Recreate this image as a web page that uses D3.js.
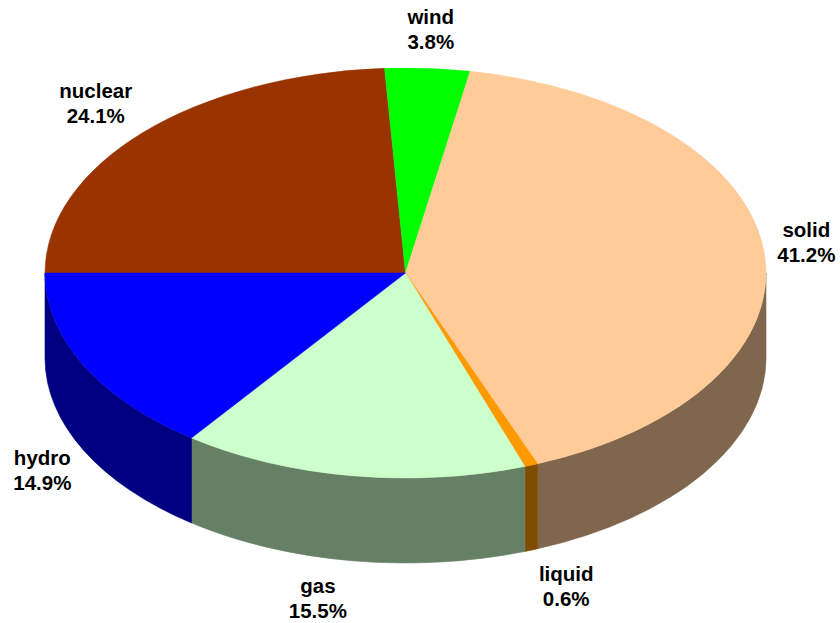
<!DOCTYPE html>
<html>
<head>
<meta charset="utf-8">
<script src="https://cdn.jsdelivr.net/npm/d3@7"></script>
<style>
  html, body { margin: 0; padding: 0; background: #ffffff; }
  svg { display: block; }
  text { font-family: "Liberation Sans", Arial, Helvetica, sans-serif; font-weight: bold; }
</style>
</head>
<body>
<svg id="chart" width="840" height="623"></svg>
<script>
// Energy sources, clockwise from the 9 o'clock position
const categories = ["nuclear", "wind", "solid", "liquid", "gas", "hydro"];
const shares = [24.1, 3.8, 41.2, 0.6, 15.5, 14.9];
const colors = ["#993300", "#00ff00", "#ffcc99", "#ff9900", "#ccffcc", "#0000ff"];

const cx = 405.5, cy = 273;      // centre of the top face
const rx = 360.5, ry = 205;      // ellipse radii of the top face
const depth = 85;                // height of the pie's side wall

const svg = d3.select("#chart");

const pie = d3.pie()
  .sort(null)
  .value(d => d.value)
  .startAngle(-Math.PI / 2)
  .endAngle(3 * Math.PI / 2);

const slices = pie(categories.map((c, i) => ({ name: c, value: shares[i], color: colors[i] })));

// darker shade for the side walls
function shade(c) {
  const k = d3.rgb(c);
  return d3.rgb(k.r * 0.5, k.g * 0.5, k.b * 0.5).formatHex();
}

// point on the ellipse at angle a (radians, clockwise from 12 o'clock)
const ex = a => cx + rx * Math.sin(a);
const ey = a => cy - ry * Math.cos(a);

// side wall: only the front half (angles between 90deg and 270deg) is visible
function sidePath(a0, a1) {
  const lo = Math.max(a0, Math.PI / 2), hi = Math.min(a1, 3 * Math.PI / 2);
  if (hi <= lo) return null;
  const large = (hi - lo) > Math.PI ? 1 : 0;
  return `M${ex(lo)},${ey(lo)}` +
    `A${rx},${ry} 0 ${large} 1 ${ex(hi)},${ey(hi)}` +
    `L${ex(hi)},${ey(hi) + depth}` +
    `A${rx},${ry} 0 ${large} 0 ${ex(lo)},${ey(lo) + depth}Z`;
}

// normalise slice angles into [0, 2pi) so the side-wall test works
function wrapped(d) {
  const T = 2 * Math.PI;
  const a0 = d.startAngle, a1 = d.endAngle;
  const segs = [];
  if (a1 <= 0) segs.push([a0 + T, a1 + T]);
  else if (a0 < 0) { segs.push([a0 + T, T]); segs.push([0, a1]); }
  else if (a0 >= T) segs.push([a0 - T, a1 - T]);
  else if (a1 > T) { segs.push([a0, T]); segs.push([0, a1 - T]); }
  else segs.push([a0, a1]);
  return segs;
}

const sideLayer = svg.append("g").attr("class", "sides");
slices.forEach(d => {
  wrapped(d).forEach(([a0, a1]) => {
    const p = sidePath(a0, a1);
    if (p) {
      sideLayer.append("path")
        .attr("d", p)
        .attr("fill", shade(d.data.color))
        .attr("stroke", shade(d.data.color))
        .attr("stroke-width", 0.6);
    }
  });
});

// top face: circular arcs squashed into the ellipse
const arc = d3.arc().innerRadius(0).outerRadius(rx);
const topFace = svg.append("g")
  .attr("transform", `translate(${cx},${cy}) scale(1,${ry / rx})`);
topFace.selectAll("path")
  .data(slices)
  .join("path")
  .attr("d", arc)
  .attr("fill", d => d.data.color)
  .attr("stroke", d => d.data.color)
  .attr("stroke-width", 0.6);

// labels: a centred two-line block set just outside the rim at each slice's mid-angle
const labelLayer = svg.append("g").attr("class", "labels");
slices.forEach(d => {
  const m = (d.startAngle + d.endAngle) / 2;
  const s = Math.sin(m), c = Math.cos(m);
  const px = ex(m);
  const py = ey(m) + (c < 0 ? depth : 0);
  const edge = px + 13 * Math.sign(s) * Math.sqrt(Math.abs(s));
  const mid = py - 32 * c + (c < 0 ? 13 : 0);

  const t = labelLayer.append("text")
    .attr("text-anchor", "middle")
    .attr("font-size", 20.5)
    .attr("fill", "#000");
  const l1 = t.append("tspan").attr("y", mid - 12.5).text(d.data.name);
  const l2 = t.append("tspan").attr("y", mid + 12.5).text(d.data.value.toFixed(1) + "%");
  const w = Math.max(l1.node().getComputedTextLength(), l2.node().getComputedTextLength());
  const xc = Math.abs(s) < 0.1 ? edge : edge + Math.sign(s) * w / 2;
  l1.attr("x", xc);
  l2.attr("x", xc);
});
</script>
</body>
</html>
